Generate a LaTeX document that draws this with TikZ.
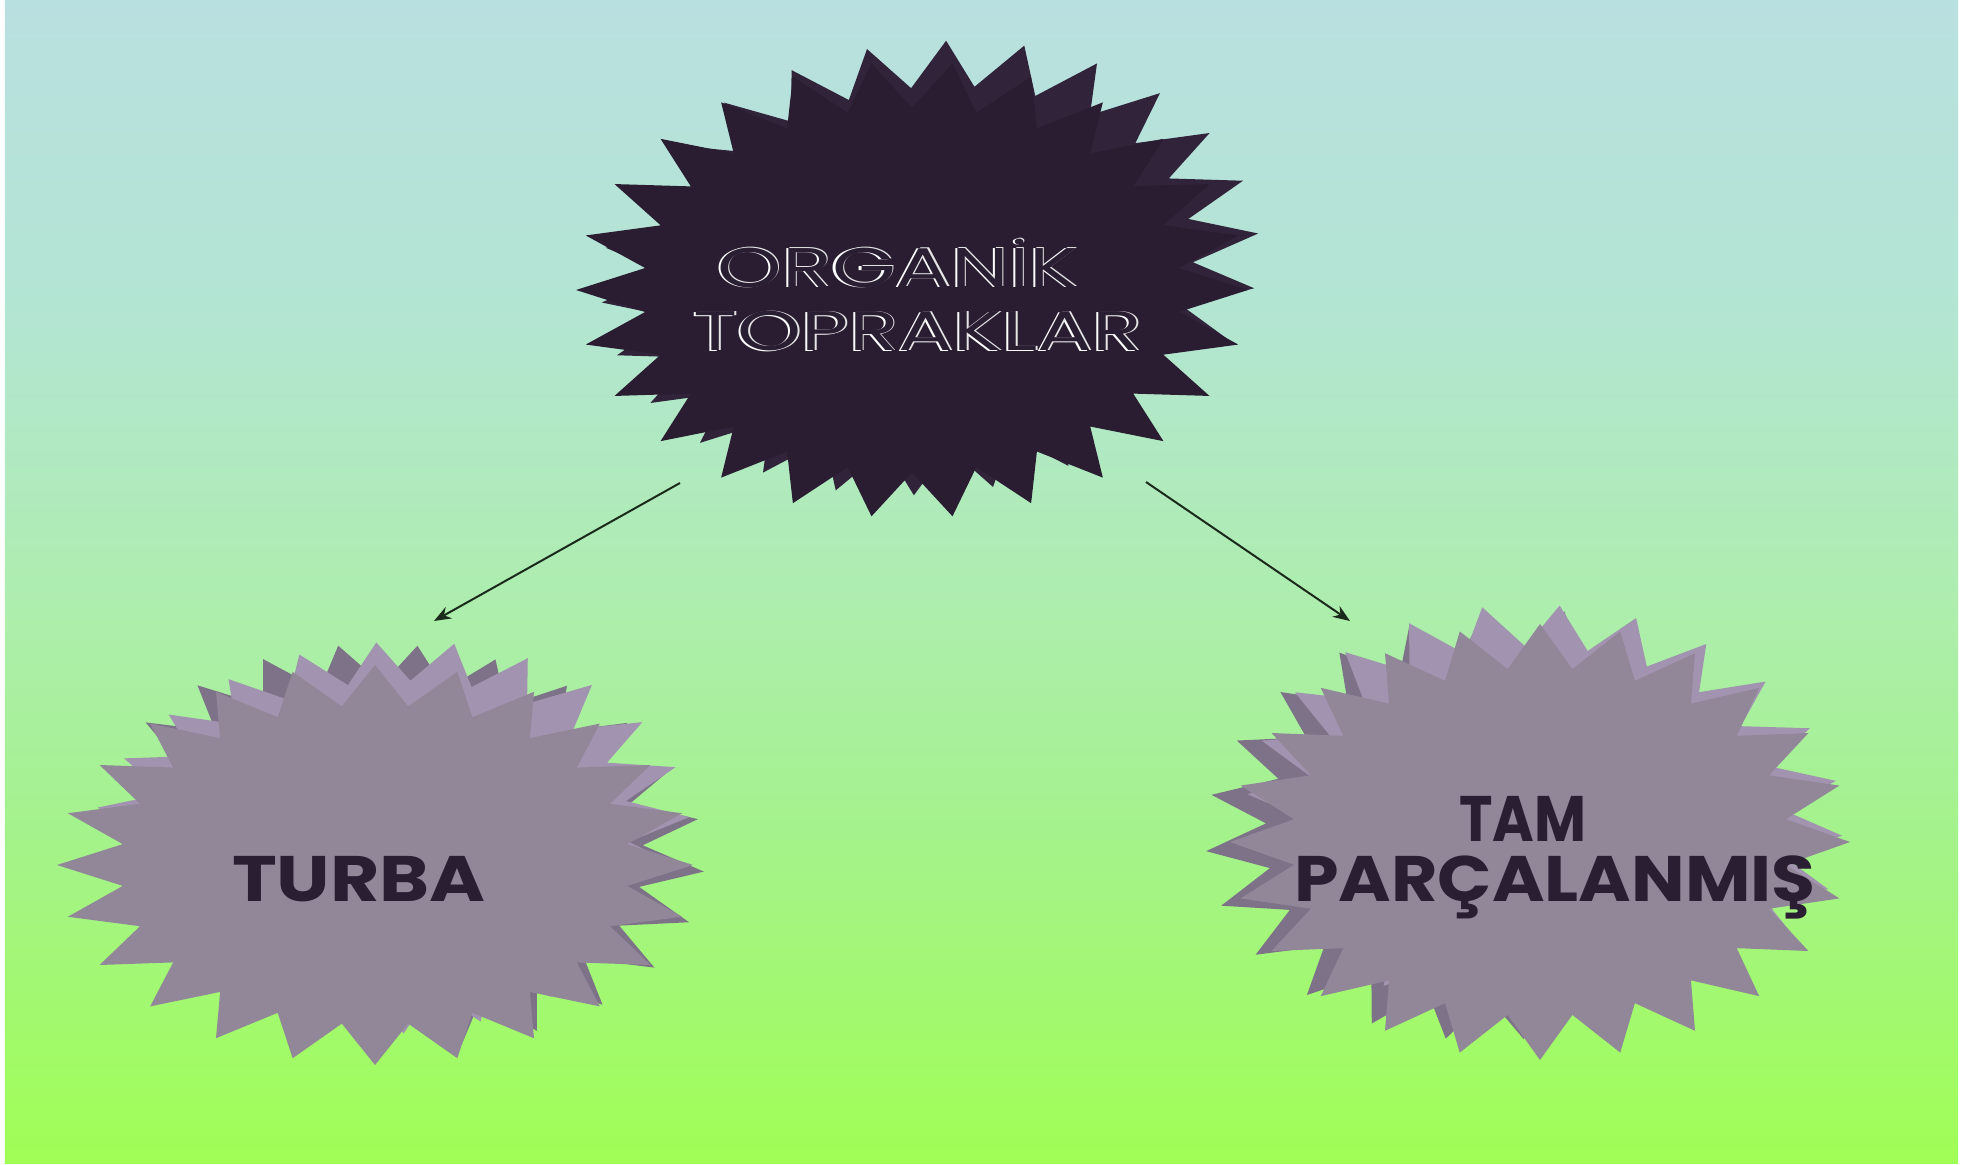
\documentclass[tikz,border=0pt]{standalone}
\usepackage{fontspec}
\setmainfont{Poppins}
\usetikzlibrary{arrows.meta}

\definecolor{skyA}{HTML}{B9E0E0}
\definecolor{skyB}{HTML}{B3E5D3}
\definecolor{skyC}{HTML}{AEEDB0}
\definecolor{skyD}{HTML}{A4F28C}
\definecolor{skyE}{HTML}{A0FE55}
\definecolor{plumFront}{HTML}{2A1D31}
\definecolor{plumBack}{HTML}{30233A}
\definecolor{lavFront}{HTML}{928799}
\definecolor{lavLight}{HTML}{A294B0}
\definecolor{lavDark}{HTML}{7E7289}
\definecolor{inkText}{HTML}{2A1E33}
\definecolor{arrowInk}{HTML}{1B2B1B}

% star burst: centre x, centre y, radius x, radius y, points, inner ratio, rotation, colour
\newcommand\burst[8]{%
  \pgfmathtruncatemacro\burstlast{2*#5-1}%
  \begin{scope}[shift={(#1,#2)},rotate=#7]
    \fill[#8] (#3,0) \foreach \k in {1,...,\burstlast}{
      -- ({ifthenelse(isodd(\k),#6,1)*#3*cos(\k*180/#5)},
          {ifthenelse(isodd(\k),#6,1)*#4*sin(\k*180/#5)}) } -- cycle;
  \end{scope}}

% dark letters with a thin light rim
\newcommand\rimtext[1]{%
  \makebox[0pt][l]{\kern-0.14mm\raisebox{-0.08mm}{\color{white}#1}}%
  \makebox[0pt][l]{\kern0.1mm\raisebox{0.08mm}{\color{white!80!gray}#1}}%
  {\color{inkText}#1}}

\tikzset{
  arrowline/.style={draw=arrowInk, line width=0.2mm,
    -{Stealth[length=1.7mm, width=1.3mm]}},
  headtext/.style={inner sep=0pt, anchor=base,
    font=\fontsize{15.9}{18}\selectfont},
  boxtext/.style={inner sep=0pt, anchor=base, text=inkText,
    font=\fontsize{18.3}{20}\selectfont\bfseries},
}

\begin{document}
\begin{tikzpicture}[x=0.1mm, y=-0.1mm]
  \useasboundingbox (0,0) rectangle (1974,1165);

  % background gradient
  \shade[top color=skyA, bottom color=skyB] (5,1) rectangle (1958,310);
  \shade[top color=skyB, bottom color=skyC] (5,309.5) rectangle (1958,590);
  \shade[top color=skyC, bottom color=skyD] (5,589.5) rectangle (1958,830);
  \shade[top color=skyD, bottom color=skyE] (5,829.5) rectangle (1958,1163);

  % top burst
  \burst{930}{268}{330}{226}{26}{0.8}{6}{plumBack}
  \burst{912}{290}{336}{228}{26}{0.8}{0}{plumFront}

  % left burst
  \burst{400}{845}{305}{200}{24}{0.8}{-5}{lavDark}
  \burst{390}{838}{300}{196}{24}{0.8}{4}{lavLight}
  \burst{375}{865}{318}{200}{24}{0.8}{0}{lavFront}

  % right burst
  \burst{1505}{825}{300}{215}{24}{0.8}{5}{lavDark}
  \burst{1545}{815}{298}{210}{24}{0.8}{-4}{lavLight}
  \burst{1540}{842}{310}{218}{24}{0.8}{0}{lavFront}

  % labels
  \node[headtext] (org1) at (898,287) {\scalebox{1.47}[1]{\rimtext{ORGANİK}}};
  \node[headtext] (org2) at (918,351) {\scalebox{1.46}[1]{\rimtext{TOPRAKLAR}}};
  \node[boxtext] (turba) at (359,901) {\scalebox{1.18}[1]{TURBA}};
  \node[boxtext] (tam) at (1523,841) {\scalebox{0.88}[1]{TAM}};
  \node[boxtext] (parc) at (1555,901) {\scalebox{1.11}[1]{PARÇALANMIŞ}};

  % connectors
  \coordinate (leftFrom) at (680,483);
  \coordinate (leftTo) at (434,621);
  \coordinate (rightFrom) at (1146,482);
  \coordinate (rightTo) at (1350,621);
  \draw[arrowline] (leftFrom) -- (leftTo);
  \draw[arrowline] (rightFrom) -- (rightTo);
\end{tikzpicture}
\end{document}
